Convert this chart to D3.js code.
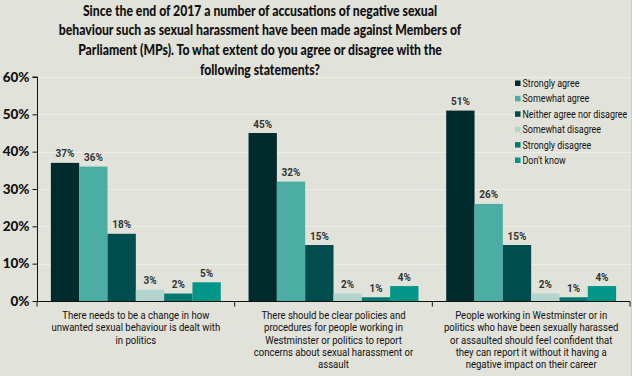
<!DOCTYPE html>
<html><head><meta charset="utf-8">
<script src="https://cdn.jsdelivr.net/npm/d3@7/dist/d3.min.js"></script>
<style>
body{margin:0;padding:0;background:#e1e2da;}
svg{display:block;}
</style></head>
<body>
<svg id="chart" width="632" height="376"></svg>
<script>
const categories = [
  "There needs to be a change in how unwanted sexual behaviour is dealt with in politics",
  "There should be clear policies and procedures for people working in Westminster or politics to report concerns about sexual harassment or assault",
  "People working in Westminster or in politics who have been sexually harassed or assaulted should feel confident that they can report it without it having a negative impact on their career"
];
const categoryLines = [
  ["There needs to be a change in how", "unwanted sexual behaviour is dealt with", "in politics"],
  ["There should be clear policies and", "procedures for people working in", "Westminster or politics to report", "concerns about sexual harassment or", "assault"],
  ["People working in Westminster or in", "politics who have been sexually harassed", "or assaulted should feel confident that", "they can report it without it having a", "negative impact on their career"]
];
const seriesNames = ["Strongly agree","Somewhat agree","Neither agree nor disagree","Somewhat disagree","Strongly disagree","Don't know"];
const seriesColors = ["#002b2c","#4bada3","#004d4f","#b4d4d0","#007a70","#009688"];
const stronglyAgree = [37,45,51];
const somewhatAgree = [36,32,26];
const neither = [18,15,15];
const somewhatDisagree = [3,2,2];
const stronglyDisagree = [2,1,1];
const dontKnow = [5,4,4];
const yTicks = [0,10,20,30,40,50,60];
const titleLines = [
  "Since the end of 2017 a number of accusations of negative sexual",
  "behaviour such as sexual harassment have been made against Members of",
  "Parliament (MPs). To what extent do you agree or disagree with the",
  "following statements?"
];

(function(){
const series = [stronglyAgree, somewhatAgree, neither, somewhatDisagree, stronglyDisagree, dontKnow];
const svg = d3.select("#chart");
const W = 632, H = 376;
const mLeft = 37, mRight = 630, mTop = 77, mBottom = 301;

function squeeze(family, size, weight, sample, target){
  const t = svg.append("text").style("font-family", family).style("font-size", size + "px")
    .style("font-weight", weight).text(sample);
  const w = t.node().getComputedTextLength();
  t.remove();
  return Math.min(1, target / w);
}

svg.append("rect").attr("width", W).attr("height", H).attr("fill", "#e1e2da");
svg.append("line").attr("x1", W-0.5).attr("x2", W-0.5).attr("y1", 0).attr("y2", H).attr("stroke", "#cfd0c8");

const y = d3.scaleLinear().domain([0,60]).range([mBottom, mTop]);
const x0 = d3.scaleBand().domain(d3.range(categories.length)).range([mLeft, mRight]).paddingInner(0).paddingOuter(0);
const x1 = d3.scaleBand().domain(d3.range(seriesNames.length)).range([0, x0.bandwidth()]).paddingOuter(0.49).paddingInner(0);

svg.append("g").selectAll("line").data(yTicks.filter(d => d > 0)).join("line")
  .attr("x1", mLeft).attr("x2", mRight)
  .attr("y1", d => Math.round(y(d)) + 0.5).attr("y2", d => Math.round(y(d)) + 0.5)
  .attr("stroke", "#eeeee8").attr("stroke-width", 1);

// title
const titleFont = "Lato, 'Open Sans', sans-serif";
const kt = squeeze(titleFont, 15, "900", titleLines[1], 403);
svg.append("g").selectAll("text").data(titleLines).join("text")
  .attr("transform", (d,i) => `translate(260,${15.5 + i * 19.9}) scale(${kt},1)`)
  .attr("text-anchor", "middle")
  .style("font-family", titleFont)
  .style("font-weight", "900").style("font-size", "15px").attr("fill", "#111")
  .text(d => d);

// bars + labels
const labelFont = "Roboto, 'Liberation Sans', sans-serif";
const groups = svg.append("g").selectAll("g").data(categories).join("g")
  .attr("transform", (d,i) => `translate(${x0(i)},0)`);
groups.each(function(c, ci){
  const g = d3.select(this);
  series.forEach((s, si) => {
    g.append("rect")
      .attr("x", x1(si)).attr("width", x1.bandwidth())
      .attr("y", y(s[ci])).attr("height", y(0) - y(s[ci]))
      .attr("fill", seriesColors[si]);
    g.append("text")
      .attr("x", x1(si) + x1.bandwidth()/2).attr("y", y(s[ci]) - 5.5)
      .attr("text-anchor", "middle")
      .style("font-family", labelFont)
      .style("font-size", "10px").style("font-weight", "bold").attr("fill", "#333")
      .text(s[ci] + "%");
  });
});

// y axis
const yAxis = d3.axisLeft(y).tickValues(yTicks).tickFormat(d => d + "%").tickSize(5).tickPadding(3);
const ya = svg.append("g").attr("transform", `translate(${mLeft + 0.5},0)`).call(yAxis);
ya.select(".domain").attr("stroke", "#111").attr("d", `M-5,${y(60)}H0V${y(0)}`);
ya.selectAll(".tick line").attr("stroke", "#111");
ya.selectAll(".tick text").attr("fill", "#111")
  .style("font-family", "Lato, 'Liberation Sans', sans-serif")
  .style("font-size", "13.5px").style("font-weight", "900");

// x axis
const xAxis = d3.axisBottom(x0).tickFormat("").tickSize(0);
const xa = svg.append("g").attr("transform", `translate(0,${mBottom + 0.5})`).call(xAxis);
xa.select(".domain").attr("stroke", "#111").attr("d", `M${mLeft},0H${mRight}`);
const boundaries = d3.range(categories.length + 1).map(i => mLeft + i * x0.bandwidth());
xa.selectAll(".sep").data(boundaries).join("line").attr("class","sep")
  .attr("x1", d => d).attr("x2", d => d).attr("y1", 0).attr("y2", 5).attr("stroke", "#111");

// category labels (one text element per line)
const catFont = "Roboto, 'Liberation Sans', sans-serif";
const catSize = 10.5;
const kc = squeeze(catFont, catSize, "normal", categoryLines[0][1], 169);
const catRows = categoryLines.flatMap((lines, i) => lines.map((t, j) => ({i, j, t})));
svg.append("g").selectAll("text").data(catRows).join("text")
  .attr("transform", d => `translate(${x0(d.i) + x0.bandwidth()/2},${319 + d.j * 12.3}) scale(${kc},1)`)
  .attr("text-anchor", "middle")
  .style("font-family", catFont)
  .style("font-size", catSize + "px").attr("fill", "#111")
  .text(d => d.t);

// legend
const kl = squeeze(catFont, 11, "normal", seriesNames[2], 105);
const lg = svg.append("g").attr("transform", "translate(515,83)");
seriesNames.forEach((n, i) => {
  const row = lg.append("g").attr("transform", `translate(0,${i * 15.4})`);
  row.append("rect").attr("x", 0).attr("y", -2.5).attr("width", 5.5).attr("height", 5.5).attr("fill", seriesColors[i]);
  row.append("text").attr("transform", `translate(7.5,4) scale(${kl},1)`)
    .style("font-family", catFont)
    .style("font-size", "11px").attr("fill", "#111").text(n);
});
})();
</script>
</body></html>
